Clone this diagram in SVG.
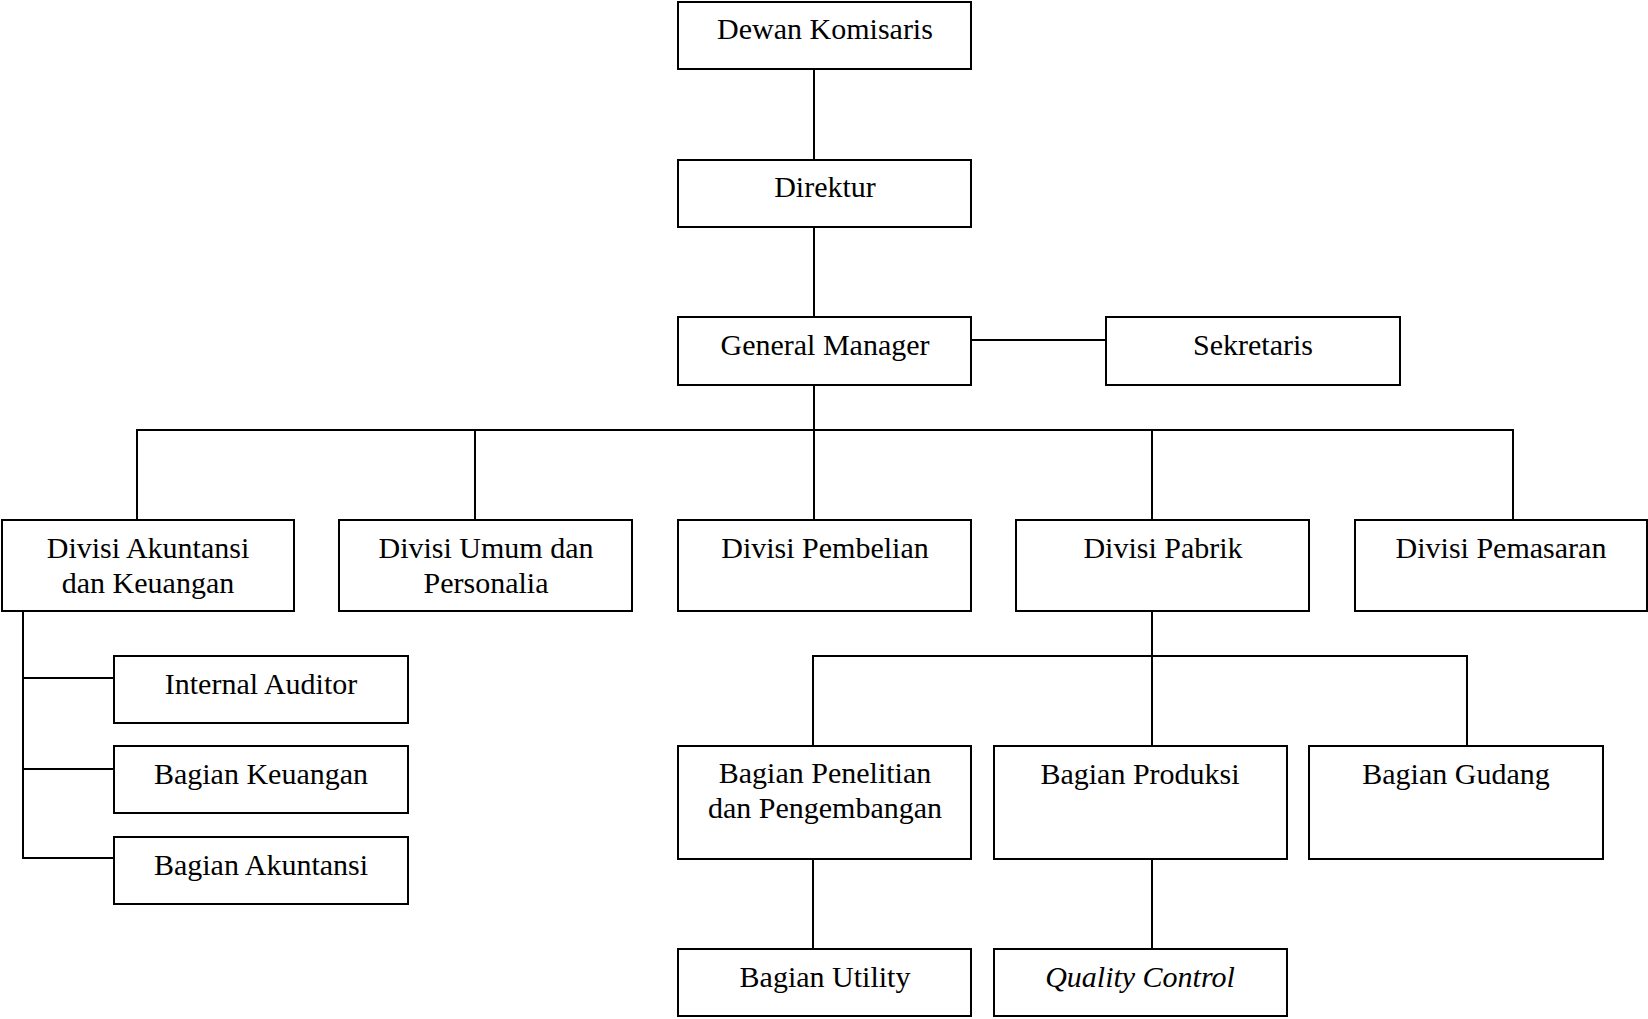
<svg xmlns="http://www.w3.org/2000/svg" width="1648" height="1019" viewBox="0 0 1648 1019">
<style>
rect.box{fill:#fff;stroke:#000;stroke-width:2}
text{font-family:"Liberation Serif","Times New Roman",serif;font-size:30px;fill:#000;text-anchor:middle}
.it{font-style:italic}
#connectors line{stroke:#000;stroke-width:2}
</style>
<rect width="1648" height="1019" fill="#fff"/>
<g id="connectors">
<line x1="814" y1="69" x2="814" y2="160"/>
<line x1="814" y1="227" x2="814" y2="317"/>
<line x1="971" y1="340" x2="1106" y2="340"/>
<line x1="814" y1="385" x2="814" y2="520"/>
<line x1="136" y1="430" x2="1514" y2="430"/>
<line x1="137" y1="430" x2="137" y2="520"/>
<line x1="475" y1="430" x2="475" y2="520"/>
<line x1="1152" y1="430" x2="1152" y2="520"/>
<line x1="1513" y1="430" x2="1513" y2="520"/>
<line x1="23" y1="611" x2="23" y2="859"/>
<line x1="22" y1="678" x2="114" y2="678"/>
<line x1="22" y1="769" x2="114" y2="769"/>
<line x1="22" y1="858" x2="114" y2="858"/>
<line x1="1152" y1="611" x2="1152" y2="746"/>
<line x1="812" y1="656" x2="1468" y2="656"/>
<line x1="813" y1="656" x2="813" y2="746"/>
<line x1="1467" y1="656" x2="1467" y2="746"/>
<line x1="813" y1="859" x2="813" y2="949"/>
<line x1="1152" y1="859" x2="1152" y2="949"/>
</g>
<g id="dewan-komisaris"><rect class="box" x="678" y="2" width="293" height="67"/><text x="825" y="39">Dewan Komisaris</text></g>
<g id="direktur"><rect class="box" x="678" y="160" width="293" height="67"/><text x="825" y="197">Direktur</text></g>
<g id="general-manager"><rect class="box" x="678" y="317" width="293" height="68"/><text x="825" y="355">General Manager</text></g>
<g id="sekretaris"><rect class="box" x="1106" y="317" width="294" height="68"/><text x="1253" y="355">Sekretaris</text></g>
<g id="divisi-akuntansi"><rect class="box" x="2" y="520" width="292" height="91"/><text x="148" y="558">Divisi Akuntansi</text><text x="148" y="593">dan Keuangan</text></g>
<g id="divisi-umum"><rect class="box" x="339" y="520" width="293" height="91"/><text x="486" y="558">Divisi Umum dan</text><text x="486" y="593">Personalia</text></g>
<g id="divisi-pembelian"><rect class="box" x="678" y="520" width="293" height="91"/><text x="825" y="558">Divisi Pembelian</text></g>
<g id="divisi-pabrik"><rect class="box" x="1016" y="520" width="293" height="91"/><text x="1163" y="558">Divisi Pabrik</text></g>
<g id="divisi-pemasaran"><rect class="box" x="1355" y="520" width="292" height="91"/><text x="1501" y="558">Divisi Pemasaran</text></g>
<g id="internal-auditor"><rect class="box" x="114" y="656" width="294" height="67"/><text x="261" y="694">Internal Auditor</text></g>
<g id="bagian-keuangan"><rect class="box" x="114" y="746" width="294" height="67"/><text x="261" y="784">Bagian Keuangan</text></g>
<g id="bagian-akuntansi"><rect class="box" x="114" y="837" width="294" height="67"/><text x="261" y="875">Bagian Akuntansi</text></g>
<g id="bagian-penelitian"><rect class="box" x="678" y="746" width="293" height="113"/><text x="825" y="783">Bagian Penelitian</text><text x="825" y="818">dan Pengembangan</text></g>
<g id="bagian-produksi"><rect class="box" x="994" y="746" width="293" height="113"/><text x="1140" y="784">Bagian Produksi</text></g>
<g id="bagian-gudang"><rect class="box" x="1309" y="746" width="294" height="113"/><text x="1456" y="784">Bagian Gudang</text></g>
<g id="bagian-utility"><rect class="box" x="678" y="949" width="293" height="67"/><text x="825" y="987">Bagian Utility</text></g>
<g id="quality-control"><rect class="box" x="994" y="949" width="293" height="67"/><text class="it" x="1140" y="987">Quality Control</text></g>
</svg>
